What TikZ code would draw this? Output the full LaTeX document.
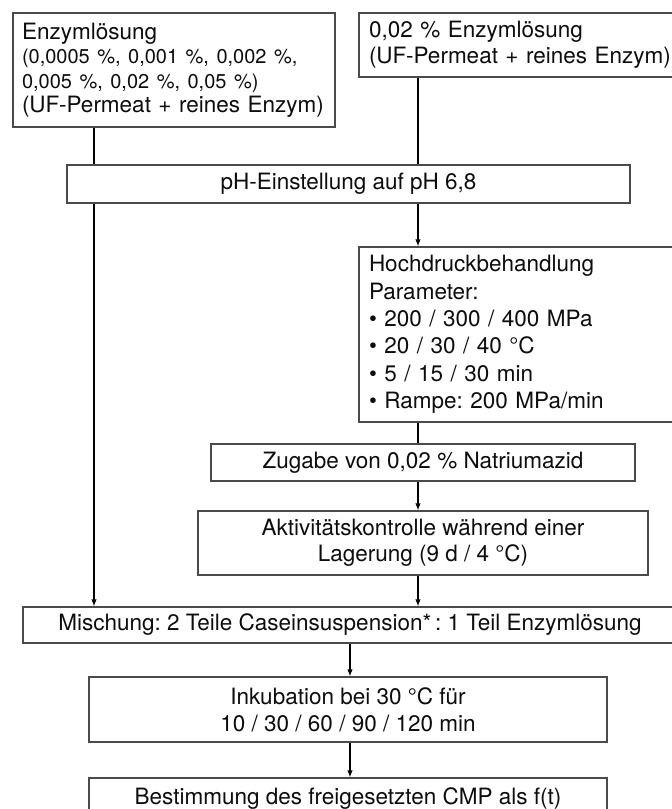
\documentclass[tikz,border=0pt]{standalone}
\usepackage{fontspec}
\setmainfont{TeX Gyre Heros}
\usetikzlibrary{arrows.meta}
\frenchspacing

\definecolor{ink}{HTML}{0D0D0D}
\definecolor{boxgray}{HTML}{4A4A4A}

\begin{document}
\begin{tikzpicture}[x=1pt,y=-1pt,
  box/.style={draw=boxgray, line width=1.1pt, fill=white, text=ink,
    inner xsep=0pt, inner ysep=0pt, align=center,
    font=\fontsize{22.5}{26}\selectfont},
  leftbox/.style={box, align=left, inner xsep=10pt},
  flow/.style={line width=1.6pt, draw=black},
  arr/.style={flow, -{Latex[length=7pt,width=5.5pt]}}
]
\useasboundingbox (0,0) rectangle (672,809);
\clip (0,0) rectangle (672,809);

% column positions of the connectors
\coordinate (cl) at (94,0);
\coordinate (cr) at (418,0);
\coordinate (cm) at (350,0);

% input solutions
\node[leftbox, inner xsep=9pt, text width=304pt, minimum height=114pt,
      font=\fontsize{22.5}{24.5}\selectfont] (b1) at (174,70)
  {Enzymlösung\\
   {\fontsize{20}{24}\selectfont (0,0005 \%, 0,001 \%, 0,002 \%,}\\
   {\fontsize{20}{24}\selectfont 0,005 \%, 0,02 \%, 0,05 \%)}\\
   (UF-Permeat + reines Enzym)};
\node[leftbox, text width=340pt, minimum height=64pt] (b2) at (539,45)
  {0,02 \% Enzymlösung\\(UF-Permeat + reines Enzym)};

% pH adjustment
\node[box, minimum width=563pt, minimum height=38pt] (ph) at (348.5,184)
  {pH-Einstellung auf pH 6,8};

% high-pressure branch
\node[leftbox, text width=340pt, minimum height=175pt,
      font=\fontsize{22.5}{27.4}\selectfont] (hp) at (539,334.5)
  {Hochdruckbehandlung\\
   Parameter:\\
   • 200 / 300 / 400 MPa\\
   • 20 / 30 / 40 °C\\
   • 5 / 15 / 30 min\\
   • Rampe: 200 MPa/min};
\node[box, minimum width=424pt, minimum height=37pt] (az) at (423,462.5)
  {Zugabe von 0,02 \% Natriumazid};
\node[box, minimum width=450pt, minimum height=64pt] (ak) at (423,543)
  {Aktivitätskontrolle während einer\\Lagerung (9 d / 4 °C)};

% mixing, incubation, analysis
\node[box, minimum width=654pt, minimum height=36pt] (mx) at (350,625)
  {Mischung: 2 Teile Caseinsuspension*\,: 1 Teil Enzymlösung};
\node[box, minimum width=518pt, minimum height=65pt,
      font=\fontsize{22.5}{27}\selectfont] (ik) at (348,709.5)
  {Inkubation bei 30 °C für\\10 / 30 / 60 / 90 / 120 min};
\node[box, minimum width=518pt, minimum height=41pt] (bs) at (348,798.5)
  {Bestimmung des freigesetzten CMP als f(t)};

% connectors
\draw[flow] (cl |- b1.south) -- (cl |- ph.north);
\draw[arr]  (cl |- ph.south) -- (cl |- mx.north);
\draw[flow] (cr |- b2.south) -- (cr |- ph.north);
\draw[arr]  (cr |- ph.south) -- (cr |- hp.north);
\draw[flow] (cr |- hp.south) -- (cr |- az.north);
\draw[arr]  (cr |- az.south) -- (cr |- ak.north);
\draw[arr]  (cr |- ak.south) -- (cr |- mx.north);
\draw[arr]  (cm |- mx.south) -- (cm |- ik.north);
\draw[arr]  (cm |- ik.south) -- (cm |- bs.north);
\end{tikzpicture}
\end{document}
